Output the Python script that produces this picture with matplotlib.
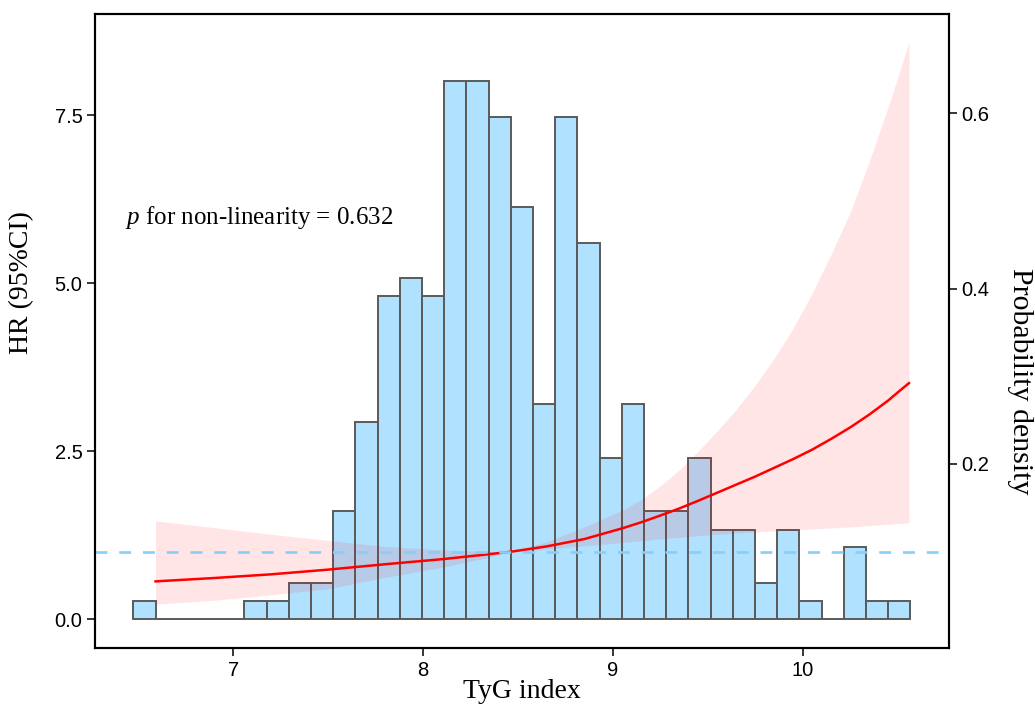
import numpy as np
import matplotlib
matplotlib.use("Agg")
import matplotlib.pyplot as plt

# histogram of TyG index (bar heights on the HR scale)
bin_start = 6.473
bin_width = 0.117
bar_heights = [0.27, 0, 0, 0, 0, 0.27, 0.27, 0.53, 0.53, 1.6,
               2.93, 4.8, 5.07, 4.8, 8.0, 8.0, 7.47, 6.13, 3.2, 7.47,
               5.6, 2.4, 3.2, 1.6, 1.6, 2.4, 1.33, 1.33, 0.53, 1.33,
               0.27, 0, 1.07, 0.27, 0.27]

# spline fit: HR with 95% CI
tyg = [6.59, 6.9, 7.2, 7.5, 7.8, 8.1, 8.3, 8.46, 8.65, 8.85,
       9.05, 9.15, 9.25, 9.35, 9.45, 9.55, 9.65, 9.75, 9.85, 9.95,
       10.05, 10.15, 10.25, 10.35, 10.45, 10.5, 10.56]
hr = [0.56, 0.61, 0.665, 0.735, 0.815, 0.89, 0.95, 1.0, 1.08, 1.19,
      1.35, 1.44, 1.54, 1.645, 1.76, 1.88, 2.0, 2.12, 2.25, 2.38,
      2.52, 2.68, 2.85, 3.04, 3.25, 3.37, 3.51]
hr_low = [0.22, 0.28, 0.36, 0.45, 0.62, 0.77, 0.89, 1.0, 1.04, 1.09,
          1.14, 1.165, 1.19, 1.215, 1.24, 1.26, 1.28, 1.295, 1.31, 1.325,
          1.34, 1.355, 1.37, 1.39, 1.41, 1.42, 1.43]
hr_high = [1.46, 1.36, 1.26, 1.17, 1.08, 1.03, 1.01, 1.0, 1.15, 1.37,
           1.62, 1.78, 1.98, 2.22, 2.5, 2.8, 3.12, 3.48, 3.88, 4.33,
           4.85, 5.43, 6.05, 6.8, 7.62, 8.05, 8.59]

ref_hr = 1.0
p_text = "$p$ for non-linearity = 0.632"

plt.rcParams['mathtext.fontset'] = 'custom'
plt.rcParams['mathtext.it'] = 'Liberation Serif:italic'
plt.rcParams['mathtext.rm'] = 'Liberation Serif'

serif = 'Liberation Serif'
sans = 'Liberation Sans'

fig = plt.figure(figsize=(10.35, 7.06), dpi=100)
ax = fig.add_axes([95/1035, 58/706, 854/1035, 634/706])

# bars (zero-height bins still drawn so the baseline shows)
edges = bin_start + bin_width*np.arange(len(bar_heights))
ax.bar(edges, bar_heights, width=bin_width, align='edge',
       color='#B0E2FF', edgecolor='#5A5A5A', linewidth=1.4, zorder=2)

ax.fill_between(tyg, hr_low, hr_high, color='red', alpha=0.1,
                linewidth=0, zorder=3)
ax.plot(tyg, hr, color='red', linewidth=1.8, zorder=4)
ax.axhline(ref_hr, color='#87CEFA', linewidth=1.9, dashes=(4.5, 4.5), zorder=5)

ax.text(6.429, 5.88, p_text, fontsize=18, family=serif, va='baseline')

ax.set_xlim(6.271, 10.771)
ax.set_ylim(-0.4315, 9.003)
ax.set_xticks([7, 8, 9, 10])
ax.set_yticks([0, 2.5, 5.0, 7.5])
ax.set_yticklabels(['0.0', '2.5', '5.0', '7.5'])

ax2 = ax.twinx()
ax2.set_ylim(-0.0099, 0.7133)
ax2.set_yticks([0.2, 0.4, 0.6])
ax2.set_yticklabels(['0.2', '0.4', '0.6'])

for a in (ax, ax2):
    for s in a.spines.values():
        s.set_linewidth(1.5)
        s.set_color('black')
    a.tick_params(length=6, width=1.1, pad=3, labelsize=14.5, colors='black')
    for lab in a.get_xticklabels() + a.get_yticklabels():
        lab.set_family(sans)

ax.set_xlabel("TyG index", fontsize=20, family=serif, va='center')
ax.xaxis.set_label_coords(0.5, -0.069)
ax.set_ylabel("HR (95%CI)", fontsize=20, family=serif, va='center')
ax.yaxis.set_label_coords(-0.0855, 0.576)
ax2.set_ylabel("Probability density", fontsize=21.5, family=serif,
               rotation=270, va='center')
ax2.yaxis.set_label_coords(1.083, 0.42)

plt.savefig("out.png", dpi=100)
